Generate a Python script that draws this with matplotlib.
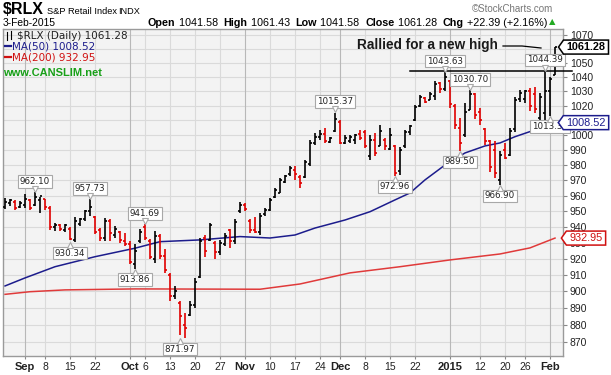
import matplotlib
matplotlib.use('Agg')
import matplotlib.pyplot as plt
import matplotlib.transforms as mtrans
import numpy as np
import pandas as pd
from matplotlib.patches import Polygon
from matplotlib.lines import Line2D

# trading days on the chart (market holidays left out)
holidays = ['2014-09-01', '2014-11-27', '2014-12-25', '2015-01-01', '2015-01-19']
dates = pd.bdate_range('2014-08-26', '2015-02-03', freq='C', holidays=holidays)

prev_close = 955.0
opens = [953, 955, 956, 952.5, 954, 957, 954, 957, 958, 952,
         940, 941, 938, 939, 932, 942, 945, 950, 946, 938,
         933, 944, 935, 937, 931, 929, 917, 931, 940, 931,
         920, 934, 922, 910, 897, 893, 880, 886, 892, 909,
         933, 932, 930, 924, 929, 938, 931, 950, 954, 944,
         938, 937, 948, 951, 959, 962, 969, 974, 977, 972,
         972, 981, 995, 999, 1001, 995.5, 1003, 1009, 995, 996,
         997, 1001, 1002, 986, 997, 993, 997, 991, 993, 976,
         993, 1002, 1010, 1020, 1025.5, 1024, 1027, 1036, 1032, 1037,
         1020, 1005, 1000, 1017, 1028, 1016, 1004, 996, 990, 970,
         990, 987, 1004, 1025, 1025, 1030, 1028, 1012, 1015, 1030,
         1041.58]
highs = [958.5, 957.8, 957, 956.5, 960.8, 957.8, 962.10, 959.3, 958.2, 953.3,
         942.7, 941.6, 942, 940, 946, 945.4, 951, 957.73, 946.9, 939.5,
         945.8, 944.8, 940.6, 937.4, 936.3, 931, 929, 938.4, 941.69, 932.1,
         937.4, 935.3, 925.9, 911.4, 903.3, 894, 887, 894, 908, 933,
         935, 942.7, 931, 932, 936, 939, 944.8, 956, 955.4, 944.8,
         946, 949, 952, 958.5, 965, 971.6, 973.8, 979.3, 979.3, 973.8,
         983.7, 997, 1001.4, 1003.7, 1004.8, 998.6, 1015.37, 1010.5, 1000, 1000,
         1001, 1003.7, 1003.7, 1000, 1001.4, 1006.9, 997.8, 1005, 993.5, 992,
         1003.7, 1006.9, 1020.7, 1027.5, 1026.4, 1029.9, 1037.5, 1036.8, 1043.63, 1038,
         1021, 1012, 1022, 1030.70, 1028.7, 1018.5, 1005, 997, 996, 989.5,
         995, 1005, 1026.4, 1031.1, 1031, 1032.3, 1033.4, 1028.7, 1044.39, 1040,
         1061.43]
lows = [951.5, 953.3, 950.5, 951.8, 952.2, 950.5, 953.3, 948.6, 951, 938,
        937.5, 937.5, 937, 931.5, 930.34, 940.6, 943.7, 947, 935.3, 931,
        931, 931, 933, 930, 928, 916.5, 913.86, 930, 932, 919.7,
        917.6, 919.7, 911.4, 894.3, 895.3, 874, 871.97, 885, 890, 908,
        921, 931, 920, 922.5, 928, 927, 929, 949, 950, 936,
        936, 935, 947, 950, 958.5, 961.5, 968.4, 972.7, 970.5, 965.2,
        971.7, 979.3, 993.7, 997, 994.8, 994.7, 1002.5, 994, 994, 995,
        994, 997, 991.4, 983.7, 985.9, 992.5, 990.3, 990.3, 972.96, 973.5,
        991.4, 1000.4, 1009.4, 1019.5, 1021.8, 1024.2, 1024, 1028.8, 1030, 1018.5,
        1004.5, 989.50, 999, 1017, 1011, 1007, 993.7, 975.5, 971.5, 966.90,
        984, 986, 1002.5, 1023, 1022, 1016.4, 1015, 1009.4, 1010, 1013.39,
        1041.58]
closes = [956, 957, 952, 955, 958, 952, 959, 959.5, 953, 940,
          941.5, 939, 941, 932.5, 944, 945, 950, 953, 937, 933,
          944, 936, 939, 931.5, 929.5, 918, 925, 937, 933, 921,
          934, 922, 913, 897, 900, 885, 878, 892, 906, 931,
          925, 941, 924, 930, 934, 931, 943, 954, 951.5, 938,
          937, 947, 951, 957, 964, 970, 973, 978, 974, 968,
          982, 995, 999, 1001, 996, 998, 1011, 995, 998, 999,
          1000, 998, 993, 997, 988, 1003, 993, 1000, 975, 990,
          1002, 1006, 1019, 1026, 1023, 1028, 1035, 1032, 1040, 1021,
          1007, 995, 1016, 1028, 1014, 1010, 996, 979, 975, 987,
          985, 1003, 1024, 1029, 1030, 1020, 1018, 1026, 1030, 1038.89,
          1061.28]

# moving averages
ma50_dates = ['2014-08-26', '2014-09-02', '2014-09-10', '2014-09-22', '2014-10-02',
              '2014-10-09', '2014-10-21', '2014-10-31', '2014-11-10', '2014-11-17',
              '2014-11-21', '2014-12-02', '2014-12-09', '2014-12-16', '2014-12-19',
              '2014-12-24', '2014-12-31', '2015-01-07', '2015-01-13', '2015-01-16',
              '2015-01-22', '2015-01-28', '2015-01-30', '2015-02-03']
ma50_vals = [903.3, 908.2, 915.1, 921.3, 926.6, 930.7, 931.8, 933.9, 933.0, 934.9,
             939.3, 944.4, 949.7, 957.3, 961.8, 970.3, 980.1, 988.1, 992.8, 994.8,
             999.0, 1003.6, 1007.0, 1008.52]
ma200_dates = ['2014-08-26', '2014-09-03', '2014-09-12', '2014-10-02', '2014-11-06',
               '2014-11-18', '2014-12-03', '2014-12-17', '2015-01-02', '2015-01-16',
               '2015-01-27', '2015-02-03']
ma200_vals = [898.2, 899.8, 900.9, 901.5, 901.3, 904.5, 911.3, 915.1, 919.3, 923.0,
              926.8, 932.95]

peak_dates = ['2014-09-04', '2014-09-19', '2014-10-06', '2014-11-28', '2014-12-31',
              '2015-01-08', '2015-01-30']
peak_vals = [962.10, 957.73, 941.69, 1015.37, 1043.63, 1030.70, 1044.39]
trough_dates = ['2014-09-15', '2014-10-02', '2014-10-15', '2014-12-16', '2015-01-06',
                '2015-01-16', '2015-02-02']
trough_vals = [930.34, 913.86, 871.97, 972.96, 989.50, 966.90, 1013.39]

xtick_dates = ['2014-09-02', '2014-09-08', '2014-09-15', '2014-09-22', '2014-10-01',
               '2014-10-06', '2014-10-13', '2014-10-20', '2014-10-27', '2014-11-03',
               '2014-11-10', '2014-11-17', '2014-11-24', '2014-12-01', '2014-12-08',
               '2014-12-15', '2014-12-22', '2015-01-02', '2015-01-12', '2015-01-20',
               '2015-01-26', '2015-02-02']
xtick_labels = ['Sep', '8', '15', '22', 'Oct', '6', '13', '20', '27', 'Nov', '10', '17',
                '24', 'Dec', '8', '15', '22', '2015', '12', '20', '26', 'Feb']
month_labels = {'Sep', 'Oct', 'Nov', 'Dec', '2015', 'Feb'}
# price labels hidden behind the value tags on the right
hidden_ylabels = {1060, 1010}

pivot_level = 1044.39
pivot_start = '2014-12-19'

RED = '#e00000'
NAVY = '#1c1c8c'
MA_RED = '#e03a3a'
W, H = 611, 375


def idx(d):
    return dates.get_loc(pd.Timestamp(d))


def fx(x):
    return x / W


def fy(y):
    return 1 - y / H


fig = plt.figure(figsize=(W / 100, H / 100), dpi=100)
ax = fig.add_axes([fx(3), fy(356), 560 / W, 327 / H])
ax.set_facecolor('#f3f3f3')
ax.set_yscale('log')
ax.set_ylim(861.6, 1074.3)
ax.set_xlim(-0.4, 111.6)

n = len(dates)
x = np.arange(n)
prevs = [prev_close] + closes[:-1]
cols = ['black' if c >= p else RED for c, p in zip(closes, prevs)]
ax.vlines(x, lows, highs, colors=cols, lw=1.2, zorder=3)
ax.hlines(opens, x - 0.45, x, colors=cols, lw=1.2, zorder=3)
ax.hlines(closes, x, x + 0.45, colors=cols, lw=1.2, zorder=3)

ax.plot([idx(d) for d in ma50_dates], ma50_vals, color=NAVY, lw=1.1, zorder=2)
ax.plot([idx(d) for d in ma200_dates], ma200_vals, color=MA_RED, lw=1.1, zorder=2)

# grid
yt = np.arange(870, 1071, 10)
for v in yt:
    ax.axhline(v, color='#dadada', lw=0.8, zorder=0)
xt = [idx(d) for d in xtick_dates]
for p, lab in zip(xt, xtick_labels):
    ax.axvline(p, color='#b8b8b8' if lab in month_labels else '#dadada', lw=0.8, zorder=0)

ax.yaxis.tick_right()
ax.set_yticks(yt)
ax.set_yticklabels(['' if v in hidden_ylabels else str(v) for v in yt], fontsize=7.5,
                   family='Liberation Sans', color='#222222')
ax.minorticks_off()
ax.tick_params(axis='y', length=3, color='#888888', pad=2)
ax.set_xticks(xt)
ax.set_xticklabels(xtick_labels, fontsize=7.5, family='Liberation Sans', color='#222222')
for t in ax.get_xticklabels():
    if t.get_text() in month_labels:
        t.set_fontweight('bold')
        t.set_fontsize(8)
ax.tick_params(axis='x', length=2, color='#888888', pad=2)
for s in ax.spines.values():
    s.set_color('#9a9a9a')
    s.set_linewidth(1)

# high / low labels with a small pointer
box = dict(boxstyle='square,pad=0.2', fc='white', ec='#a8a8a8', lw=0.8)


def point_label(d, v, up):
    i = idx(d)
    sgn = 1 if up else -1
    ax.annotate(f'{v:.2f}', (i, v), xytext=(0, sgn * 4.6), textcoords='offset points',
                ha='center', va='bottom' if up else 'top', fontsize=6.3,
                family='DejaVu Sans', color='#222222', bbox=box, zorder=5,
                annotation_clip=False)
    shift = mtrans.ScaledTranslation(0, sgn * 3.2 / 100, fig.dpi_scale_trans)
    ax.plot(i, v, marker='v' if up else '^', ms=4.2, mfc='white', mec='#a8a8a8',
            mew=0.8, zorder=6, transform=ax.transData + shift, clip_on=False)


for d, v in zip(peak_dates, peak_vals):
    point_label(d, v, True)
for d, v in zip(trough_dates, trough_vals):
    point_label(d, v, False)

# pivot line to the new high
ax.plot([idx(pivot_start), 113.4], [pivot_level, pivot_level], color='black', lw=1.1,
        zorder=4, clip_on=False)

# right-hand value tags
renderer = fig.canvas.get_renderer()


def tag(price, text, color, bold=False):
    y = H - ax.transData.transform((0, price))[1]
    t = fig.text(fx(586), fy(y), text, fontsize=7.8, family='Liberation Sans',
                 weight='bold' if bold else 'normal', color=color, ha='center',
                 va='center', zorder=11)
    ext = t.get_window_extent(renderer)
    half = ext.width / 2 + 3
    l, r = 586 - half, 586 + half
    pts = [(l - 5, y), (l, y - 7), (r, y - 7), (r, y + 7), (l, y + 7)]
    fig.patches.append(Polygon([(fx(a), fy(b)) for a, b in pts], closed=True,
                               transform=fig.transFigure, fc='white', ec=color,
                               lw=1.1, zorder=10))


tag(closes[-1], '1061.28', 'black', bold=True)
tag(ma50_vals[-1], '1008.52', NAVY)
tag(ma200_vals[-1], '932.95', '#d01010')

# header
fig.text(fx(3), fy(10), r'\$RLX', fontsize=11.5, weight='bold', family='Liberation Sans',
         va='center')
fig.text(fx(47), fy(11), 'S&P Retail Index', fontsize=6.7, family='Liberation Sans',
         va='center')
fig.text(fx(118), fy(11), 'INDX', fontsize=6.6, family='Liberation Sans', va='center')
fig.text(fx(553), fy(9), '\u00a9StockCharts.com', fontsize=7, family='Liberation Sans',
         va='center', ha='right', color='#777777')
fig.text(fx(3), fy(23), '3-Feb-2015', fontsize=7.4, family='Liberation Sans', va='center')

pieces = [('Open', True), (' 1041.58  ', False), ('High', True), (' 1061.43  ', False),
          ('Low', True), (' 1041.58  ', False), ('Close', True), (' 1061.28  ', False),
          ('Chg', True), (' +22.39 (+2.16%)', False)]
xp = 148
for txt, bold in pieces:
    t = fig.text(fx(xp), fy(23), txt, fontsize=7.75, family='Liberation Sans',
                 weight='bold' if bold else 'normal', va='center')
    xp += t.get_window_extent(renderer).width
fig.text(fx(xp + 5), fy(22), '\u25b2', fontsize=6, color='#22aa22', va='center',
         ha='center', family='DejaVu Sans')

# legend
fig.text(fx(17), fy(36), r'\$RLX (Daily) 1061.28', fontsize=7.5, family='DejaVu Sans',
         va='center', color='#222222')
fig.lines.append(Line2D([fx(7), fx(7)], [fy(32), fy(40)], color='black', lw=0.8,
                        transform=fig.transFigure))
fig.lines.append(Line2D([fx(11), fx(11)], [fy(31), fy(39)], color='black', lw=0.8,
                        transform=fig.transFigure))
fig.lines.append(Line2D([fx(5), fx(11)], [fy(46), fy(46)], color=NAVY, lw=1.6,
                        transform=fig.transFigure))
fig.text(fx(12), fy(46.5), 'MA(50) 1008.52', fontsize=7.5, family='DejaVu Sans',
         va='center', color=NAVY)
fig.lines.append(Line2D([fx(5), fx(11)], [fy(57), fy(57)], color='#d01010', lw=1.6,
                        transform=fig.transFigure))
fig.text(fx(12), fy(57.5), 'MA(200) 932.95', fontsize=7.5, family='DejaVu Sans',
         va='center', color='#d01010')
fig.text(fx(3), fy(73), 'www.CANSLIM.net', fontsize=8, weight='bold',
         family='Liberation Sans', va='center', color='#18a018')

# note
fig.text(fx(357), fy(45), 'Rallied for a new high', fontsize=9.8, weight='bold',
         family='Liberation Sans', va='center', color='#1a1a1a')
fig.lines.append(Line2D([fx(503), fx(522), fx(541)], [fy(46), fy(46), fy(48)],
                        color='black', lw=0.9, transform=fig.transFigure))

fig.savefig('out.png', dpi=100)
